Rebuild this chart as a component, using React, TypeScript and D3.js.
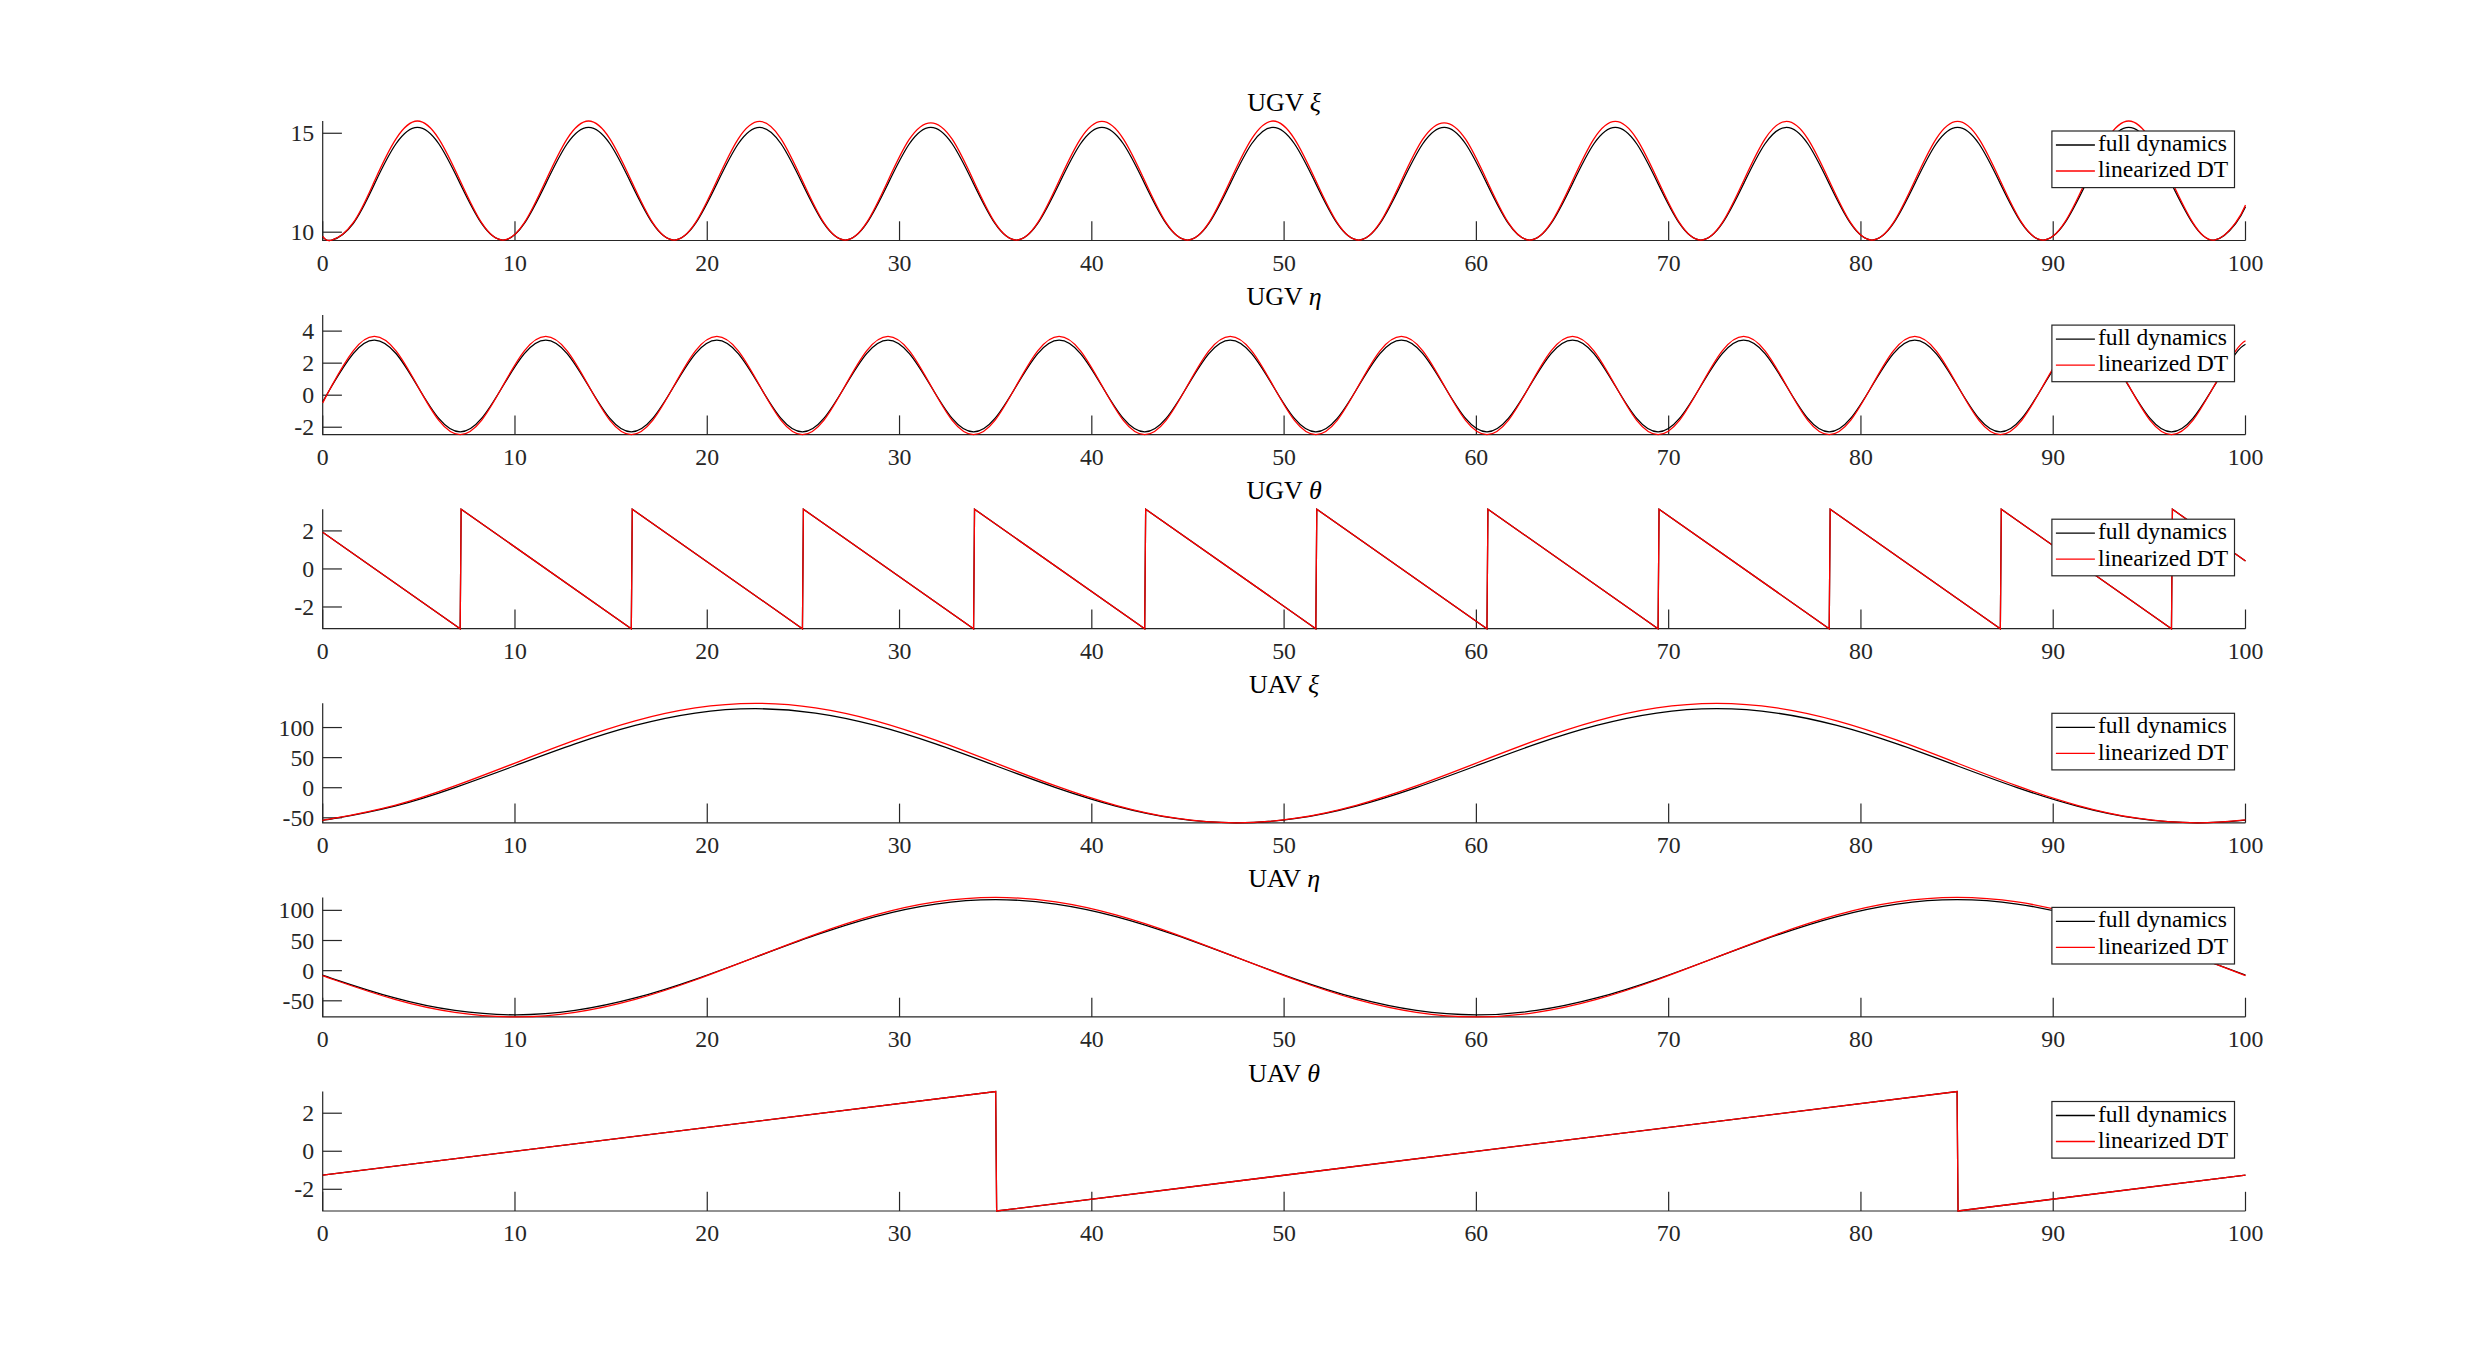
import React from 'react';
import * as d3 from 'd3';

// ---------- data ----------
const timeTicks = [0, 10, 20, 30, 40, 50, 60, 70, 80, 90, 100];

const ugvT = [
  0, 0.475, 1.5875, 2.7, 3.8125, 4.925, 6.0375, 7.15, 8.2625, 9.375, 10.4875,
  11.6, 12.7125, 13.825, 14.9375, 16.05, 17.1625, 18.275, 19.3875, 20.5, 21.6125,
  22.725, 23.8375, 24.95, 26.0625, 27.175, 28.2875, 29.4, 30.5125, 31.625, 32.7375,
  33.85, 34.9625, 36.075, 37.1875, 38.3, 39.4125, 40.525, 41.6375, 42.75, 43.8625,
  44.975, 46.0875, 47.2, 48.3125, 49.425, 50.5375, 51.65, 52.7625, 53.875, 54.9875,
  56.1, 57.2125, 58.325, 59.4375, 60.55, 61.6625, 62.775, 63.8875, 65.0, 66.1125,
  67.225, 68.3375, 69.45, 70.5625, 71.675, 72.7875, 73.9, 75.0125, 76.125, 77.2375,
  78.35, 79.4625, 80.575, 81.6875, 82.8, 83.9125, 85.025, 86.1375, 87.25, 88.3625,
  89.475, 90.5875, 91.7, 92.8125, 93.925, 95.0375, 96.15, 97.2625, 98.375, 99.4875, 100,
];

const ugvXiFull = [
  9.78,
  9.6, 10.44, 12.45, 14.47, 15.3, 14.47, 12.45, 10.44,
  9.6, 10.44, 12.45, 14.47, 15.3, 14.47, 12.45, 10.44,
  9.6, 10.44, 12.45, 14.47, 15.3, 14.47, 12.45, 10.44,
  9.6, 10.44, 12.45, 14.47, 15.3, 14.47, 12.45, 10.44,
  9.6, 10.44, 12.45, 14.47, 15.3, 14.47, 12.45, 10.44,
  9.6, 10.44, 12.45, 14.47, 15.3, 14.47, 12.45, 10.44,
  9.6, 10.44, 12.45, 14.47, 15.3, 14.47, 12.45, 10.44,
  9.6, 10.44, 12.45, 14.47, 15.3, 14.47, 12.45, 10.44,
  9.6, 10.44, 12.45, 14.47, 15.3, 14.47, 12.45, 10.44,
  9.6, 10.44, 12.45, 14.47, 15.3, 14.47, 12.45, 10.44,
  9.6, 10.44, 12.45, 14.47, 15.3, 14.47, 12.45, 10.44,
  9.6, 10.44, 11.29,
];
const ugvXiLin = [
  9.79,
  9.6, 10.48, 12.6, 14.72, 15.62, 14.72, 12.6, 10.48,
  9.6, 10.48, 12.6, 14.72, 15.62, 14.72, 12.6, 10.48,
  9.6, 10.48, 12.6, 14.72, 15.6, 14.72, 12.6, 10.48,
  9.6, 10.48, 12.6, 14.7, 15.53, 14.7, 12.6, 10.48,
  9.6, 10.48, 12.6, 14.72, 15.6, 14.72, 12.6, 10.48,
  9.6, 10.48, 12.6, 14.72, 15.62, 14.72, 12.6, 10.48,
  9.6, 10.48, 12.6, 14.7, 15.53, 14.7, 12.6, 10.48,
  9.6, 10.48, 12.6, 14.72, 15.6, 14.72, 12.6, 10.48,
  9.6, 10.48, 12.6, 14.72, 15.6, 14.72, 12.6, 10.48,
  9.6, 10.48, 12.6, 14.72, 15.6, 14.72, 12.6, 10.48,
  9.6, 10.48, 12.6, 14.72, 15.62, 14.72, 12.6, 10.48,
  9.6, 10.48, 11.38,
];

const ugvEtaFull = [
  -0.42,
  0.575, 2.6, 3.44, 2.6, 0.575, -1.45, -2.29, -1.45,
  0.575, 2.6, 3.44, 2.6, 0.575, -1.45, -2.29, -1.45,
  0.575, 2.6, 3.44, 2.6, 0.575, -1.45, -2.29, -1.45,
  0.575, 2.6, 3.44, 2.6, 0.575, -1.45, -2.29, -1.45,
  0.575, 2.6, 3.44, 2.6, 0.575, -1.45, -2.29, -1.45,
  0.575, 2.6, 3.44, 2.6, 0.575, -1.45, -2.29, -1.45,
  0.575, 2.6, 3.44, 2.6, 0.575, -1.45, -2.29, -1.45,
  0.575, 2.6, 3.44, 2.6, 0.575, -1.45, -2.29, -1.45,
  0.575, 2.6, 3.44, 2.6, 0.575, -1.45, -2.29, -1.45,
  0.575, 2.6, 3.44, 2.6, 0.575, -1.45, -2.29, -1.45,
  0.575, 2.6, 3.44, 2.6, 0.575, -1.45, -2.29, -1.45,
  0.575, 2.6, 3.18,
];
const ugvEtaLin = [
  -0.48,
  0.6, 2.77, 3.67, 2.77, 0.6, -1.57, -2.46, -1.57,
  0.6, 2.77, 3.67, 2.77, 0.6, -1.57, -2.46, -1.57,
  0.6, 2.77, 3.67, 2.77, 0.6, -1.57, -2.46, -1.57,
  0.6, 2.77, 3.67, 2.77, 0.6, -1.57, -2.46, -1.57,
  0.6, 2.77, 3.67, 2.77, 0.6, -1.57, -2.46, -1.57,
  0.6, 2.77, 3.67, 2.77, 0.6, -1.57, -2.46, -1.57,
  0.6, 2.77, 3.67, 2.77, 0.6, -1.57, -2.46, -1.57,
  0.6, 2.77, 3.67, 2.77, 0.6, -1.57, -2.46, -1.57,
  0.6, 2.77, 3.67, 2.77, 0.6, -1.57, -2.46, -1.57,
  0.6, 2.77, 3.67, 2.77, 0.6, -1.57, -2.46, -1.57,
  0.6, 2.77, 3.67, 2.77, 0.6, -1.57, -2.46, -1.57,
  0.6, 2.77, 3.4,
];

const ugvThetaT = [
  0, 7.15, 7.2, 16.05, 16.1, 24.95, 25.0, 33.85, 33.9, 42.75, 42.8, 51.65, 51.7,
  60.55, 60.6, 69.45, 69.5, 78.35, 78.4, 87.25, 87.3, 96.15, 96.2, 100,
];
const ugvThetaFull = [
  1.93, -3.14, 3.14, -3.14, 3.14, -3.14, 3.14, -3.14, 3.14, -3.14, 3.14, -3.14, 3.14,
  -3.14, 3.14, -3.14, 3.14, -3.14, 3.14, -3.14, 3.14, -3.14, 3.14, 0.42,
];
const ugvThetaLin = [
  1.93, -3.14, 3.14, -3.14, 3.14, -3.14, 3.14, -3.14, 3.14, -3.14, 3.14, -3.14, 3.14,
  -3.14, 3.14, -3.14, 3.14, -3.14, 3.14, -3.14, 3.14, -3.14, 3.14, 0.42,
];

const uavT = [
  0, 0.625, 3.75, 6.875, 10, 13.125, 16.25, 19.375, 22.5, 25.625, 28.75, 31.875, 35,
  38.125, 41.25, 44.375, 47.5, 50.625, 53.75, 56.875, 60, 63.125, 66.25, 69.375,
  72.5, 75.625, 78.75, 81.875, 85, 88.125, 91.25, 94.375, 97.5, 100,
];
const uavXiFull = [
  -53.7, -51.1, -30.5, 0.2, 36.5, 72.8, 103.5, 124.1, 131.3, 124.1, 103.5, 72.8, 36.5,
  0.2, -30.5, -51.1, -58.3, -51.1, -30.5, 0.2, 36.5, 72.8, 103.5, 124.1, 131.3, 124.1,
  103.5, 72.8, 36.5, 0.2, -30.5, -51.1, -58.3, -53.7,
];
const uavXiLin = [
  -53.4, -50.7, -29.2, 3.0, 41, 79.0, 111.2, 132.7, 140.3, 132.7, 111.2, 79.0, 41,
  3.0, -29.2, -50.7, -58.3, -50.7, -29.2, 3.0, 41, 79.0, 111.2, 132.7, 140.3, 132.7,
  111.2, 79.0, 41, 3.0, -29.2, -50.7, -58.3, -53.4,
];
const uavEtaFull = [
  -7.3, -14.3, -45.3, -66.0, -73.3, -66.0, -45.3, -14.3, 22.25, 58.8, 89.8, 110.5, 117.8,
  110.5, 89.8, 58.8, 22.25, -14.3, -45.3, -66.0, -73.3, -66.0, -45.3, -14.3, 22.25, 58.8,
  89.8, 110.5, 117.8, 110.5, 89.8, 58.8, 22.25, -7.3,
];
const uavEtaLin = [
  -8.2, -15.5, -47.7, -69.2, -76.7, -69.2, -47.7, -15.5, 22.4, 60.3, 92.5, 114.0, 121.5,
  114.0, 92.5, 60.3, 22.4, -15.5, -47.7, -69.2, -76.7, -69.2, -47.7, -15.5, 22.4, 60.3,
  92.5, 114.0, 121.5, 114.0, 92.5, 60.3, 22.4, -8.2,
];

const uavThetaT = [0, 35, 35.05, 85, 85.05, 100];
const uavThetaFull = [-1.26, 3.14, -3.14, 3.14, -3.14, -1.26];
const uavThetaLin = [-1.26, 3.14, -3.14, 3.14, -3.14, -1.26];

const legendLabels = ['full dynamics', 'linearized DT'];

const panels = [
  { name: 'UGV', sym: 'ξ', t: ugvT, full: ugvXiFull, lin: ugvXiLin, dom: [9.58, 15.62], ticks: [10, 15], smooth: true },
  { name: 'UGV', sym: 'η', t: ugvT, full: ugvEtaFull, lin: ugvEtaLin, dom: [-2.46, 5.0], ticks: [-2, 0, 2, 4], smooth: true },
  { name: 'UGV', sym: 'θ', t: ugvThetaT, full: ugvThetaFull, lin: ugvThetaLin, dom: [-Math.PI, Math.PI], ticks: [-2, 0, 2], smooth: false },
  { name: 'UAV', sym: 'ξ', t: uavT, full: uavXiFull, lin: uavXiLin, dom: [-58.3, 140.3], ticks: [-50, 0, 50, 100], smooth: true },
  { name: 'UAV', sym: 'η', t: uavT, full: uavEtaFull, lin: uavEtaLin, dom: [-76.7, 121.5], ticks: [-50, 0, 50, 100], smooth: true },
  { name: 'UAV', sym: 'θ', t: uavThetaT, full: uavThetaFull, lin: uavThetaLin, dom: [-Math.PI, Math.PI], ticks: [-2, 0, 2], smooth: false },
];

// ---------- layout ----------
const W = 2482;
const H = 1362;
const LEFT = 322.7;
const RIGHT = 2245.5;
const FIRST_BOTTOM = 240.5;
const STEP = 194.1;
const AX_H = 119.5;
const TICK = 19.2;
const AXIS_COLOR = '#262626';
const FONT = "'Liberation Serif', 'Times New Roman', serif";

function Panel({ p, i }: { p: any; i: number }) {
  const bottom = FIRST_BOTTOM + STEP * i;
  const top = bottom - AX_H;
  const x = d3.scaleLinear().domain([0, 100]).range([LEFT, RIGHT]);
  const y = d3.scaleLinear().domain(p.dom).range([bottom, top]);
  const mk = (vals: number[]) =>
    d3
      .line<number>()
      .x((_, j) => x(p.t[j]))
      .y((d) => y(d))
      .curve(p.smooth ? d3.curveNatural : d3.curveLinear)(vals) || '';
  const clipId = `clip${i}`;
  const lgW = 182.6;
  const lgH = 56.6;
  const lgX = RIGHT - 11 - lgW;
  const lgY = top + 10;
  return (
    <g>
      <defs>
        <clipPath id={clipId}>
          <rect x={LEFT - 1} y={top - 1.5} width={RIGHT - LEFT + 2} height={bottom - top + 3} />
        </clipPath>
      </defs>
      {/* axes */}
      <path d={`M${LEFT},${top}L${LEFT},${bottom}L${RIGHT},${bottom}`} fill="none" stroke={AXIS_COLOR} strokeWidth={1.2} />
      {timeTicks.map((t) => (
        <g key={`xt${t}`}>
          <line x1={x(t)} x2={x(t)} y1={bottom} y2={bottom - TICK} stroke={AXIS_COLOR} strokeWidth={1.2} />
          <text x={x(t)} y={bottom + 30.3} textAnchor="middle" fontSize={23.8} fill={AXIS_COLOR}>
            {t}
          </text>
        </g>
      ))}
      {p.ticks.map((v: number) => (
        <g key={`yt${v}`}>
          <line x1={LEFT} x2={LEFT + TICK} y1={y(v)} y2={y(v)} stroke={AXIS_COLOR} strokeWidth={1.2} />
          <text x={LEFT - 8.5} y={y(v)} dy="0.34em" textAnchor="end" fontSize={23.8} fill={AXIS_COLOR}>
            {v < 0 ? `-${Math.abs(v)}` : v}
          </text>
        </g>
      ))}
      {/* title */}
      <text x={(LEFT + RIGHT) / 2} y={top - 10} textAnchor="middle" fontSize={26} fill="#000">
        {p.name + ' '}
        <tspan fontStyle="italic">{p.sym}</tspan>
      </text>
      {/* data */}
      <g clipPath={`url(#${clipId})`}>
        <path d={mk(p.full)} fill="none" stroke="#000000" strokeWidth={1.3} />
        <path d={mk(p.lin)} fill="none" stroke="#ff0000" strokeWidth={1.3} />
      </g>
      {/* legend */}
      <rect x={lgX} y={lgY} width={lgW} height={lgH} fill="#ffffff" stroke={AXIS_COLOR} strokeWidth={1.2} />
      {legendLabels.map((lab, k) => (
        <g key={lab}>
          <line
            x1={lgX + 4}
            x2={lgX + 43}
            y1={lgY + 14 + 26 * k}
            y2={lgY + 14 + 26 * k}
            stroke={k === 0 ? '#000000' : '#ff0000'}
            strokeWidth={1.3}
          />
          <text x={lgX + 46} y={lgY + 20 + 26.3 * k} fontSize={23.6} fill="#000">
            {lab}
          </text>
        </g>
      ))}
    </g>
  );
}

export default function App() {
  return (
    <svg
      width={W}
      height={H}
      viewBox={`0 0 ${W} ${H}`}
      style={{ position: 'absolute', left: 0, top: 0, display: 'block', background: '#fff' }}
      fontFamily={FONT}
    >
      <rect x={0} y={0} width={W} height={H} fill="#ffffff" />
      {panels.map((p, i) => (
        <Panel key={i} p={p} i={i} />
      ))}
    </svg>
  );
}
